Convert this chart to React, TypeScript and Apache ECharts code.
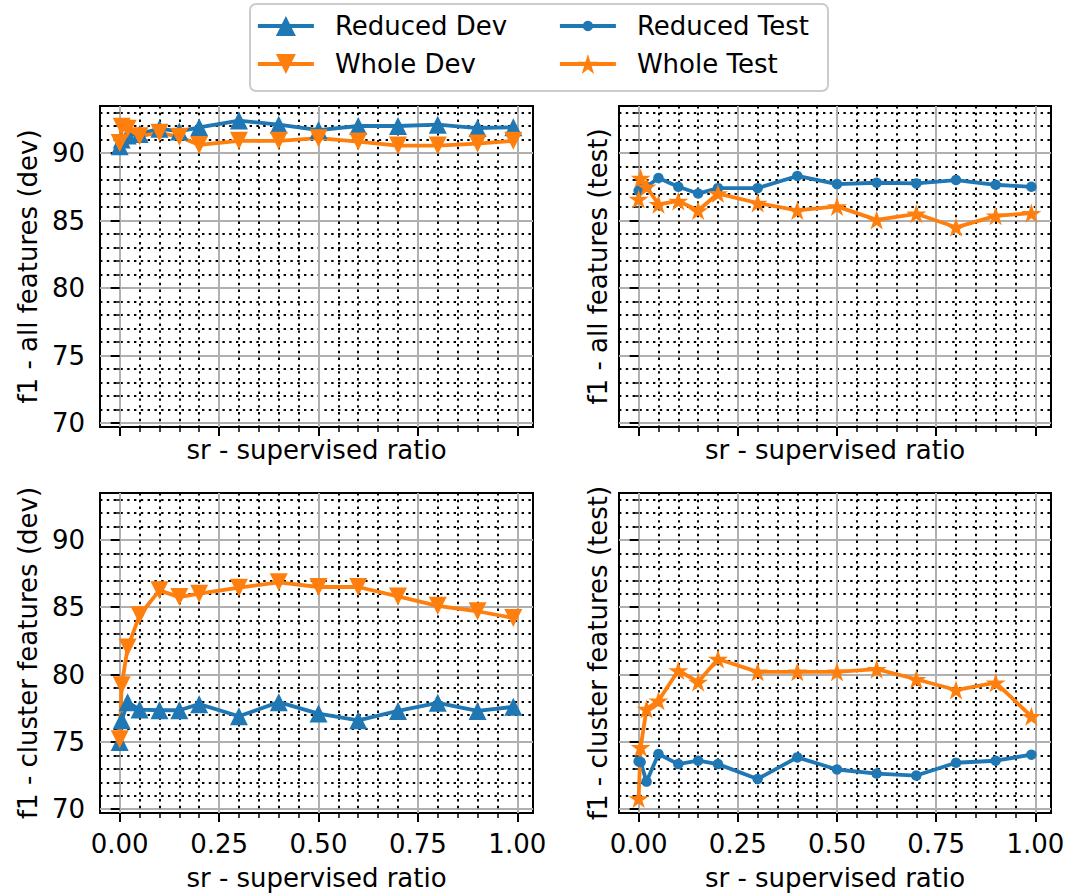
import React, { useEffect, useRef } from 'react';
import * as echarts from 'echarts';

// ---- data ----
const X_VALUES = [0, 0.005, 0.02, 0.05, 0.1, 0.15, 0.2, 0.3, 0.4, 0.5, 0.6, 0.7, 0.8, 0.9, 0.99];

const ALL_DEV_REDUCED = [90.5, 91.0, 91.3, 91.4, 91.8, 91.6, 91.9, 92.4, 92.1, 91.7, 92.0, 92.0, 92.1, 91.85, 91.9];
const ALL_DEV_WHOLE = [90.75, 91.95, 91.8, 91.25, 91.5, 91.2, 90.6, 90.9, 90.9, 91.1, 90.85, 90.55, 90.55, 90.7, 90.9];

const ALL_TEST_REDUCED = [87.2, 87.3, 87.5, 88.15, 87.5, 87.0, 87.4, 87.4, 88.3, 87.7, 87.8, 87.75, 88.0, 87.65, 87.5];
const ALL_TEST_WHOLE = [86.6, 88.15, 87.5, 86.2, 86.45, 85.75, 87.0, 86.3, 85.75, 86.05, 85.05, 85.5, 84.5, 85.35, 85.55];

const CLUSTER_DEV_REDUCED = [75.0, 76.6, 77.95, 77.4, 77.35, 77.35, 77.8, 76.9, 77.95, 77.1, 76.6, 77.3, 77.9, 77.3, 77.6];
const CLUSTER_DEV_WHOLE = [75.2, 79.2, 82.0, 84.4, 86.25, 85.75, 86.0, 86.45, 86.85, 86.5, 86.5, 85.8, 85.1, 84.7, 84.2];

const CLUSTER_TEST_REDUCED = [73.55, 73.5, 72.05, 74.1, 73.35, 73.6, 73.35, 72.25, 73.85, 72.95, 72.65, 72.5, 73.45, 73.6, 74.05];
const CLUSTER_TEST_WHOLE = [70.8, 74.6, 77.45, 78.05, 80.3, 79.45, 81.15, 80.2, 80.2, 80.2, 80.4, 79.65, 78.85, 79.4, 76.9];

const X_MAJOR = [0, 0.25, 0.5, 0.75, 1.0];
const X_MINOR = [0.05, 0.1, 0.15, 0.2, 0.3, 0.35, 0.4, 0.45, 0.55, 0.6, 0.65, 0.7, 0.8, 0.85, 0.9, 0.95];
const Y_MAJOR = [70, 75, 80, 85, 90];
const Y_MINOR = [71, 72, 73, 74, 76, 77, 78, 79, 81, 82, 83, 84, 86, 87, 88, 89, 91, 92, 93];
const X_RANGE = [-0.0495, 1.0395];
const Y_RANGE = [69.72, 93.48];

const X_NAME = 'sr - supervised ratio';
const Y_NAMES = [
  'f1 - all features (dev)',
  'f1 - all features (test)',
  'f1 - cluster features (dev)',
  'f1 - cluster features (test)',
];
const NAME_REDUCED_DEV = 'Reduced Dev';
const NAME_WHOLE_DEV = 'Whole Dev';
const NAME_REDUCED_TEST = 'Reduced Test';
const NAME_WHOLE_TEST = 'Whole Test';

// ---- style ----
const BLUE = '#1f77b4';
const ORANGE = '#ff7f0e';
const FONT = 'DejaVu Sans';
const FS = 26;
const LW = 3.8;
const STAR = 'path://M0,-100L22.45,-30.9L95.1,-30.9L36.3,11.8L58.8,80.9L0,38.2L-58.8,80.9L-36.3,11.8L-95.1,-30.9L-22.45,-30.9Z';
const TRI_DOWN = 'path://M0,0L100,0L50,100Z';

const GRIDS = [
  { left: 100, top: 106, width: 433, height: 321 },
  { left: 619, top: 106, width: 432, height: 321 },
  { left: 100, top: 493, width: 433, height: 320 },
  { left: 619, top: 493, width: 432, height: 320 },
];

function buildOption() {
  const textBase = { fontFamily: FONT, fontSize: FS, color: '#000' };
  const xAxis: any[] = [];
  const yAxis: any[] = [];
  GRIDS.forEach((_, g) => {
    const bottomRow = g >= 2;
    const leftCol = g % 2 === 0;
    xAxis.push({
      type: 'value', gridIndex: g, min: X_RANGE[0], max: X_RANGE[1], position: 'bottom',
      axisLine: { show: false },
      axisTick: { show: true, customValues: X_MAJOR, length: 9, lineStyle: { color: '#000', width: 2 } },
      axisLabel: { show: bottomRow, customValues: X_MAJOR, formatter: (v: number) => v.toFixed(2), margin: 18, ...textBase },
      splitLine: { show: true, lineStyle: { color: '#b0b0b0', width: 2 } },
      name: X_NAME, nameLocation: 'middle', nameGap: bottomRow ? 52 : 10,
      nameTextStyle: { ...textBase },
    });
    xAxis.push({
      type: 'value', gridIndex: g, min: X_RANGE[0], max: X_RANGE[1], position: 'bottom',
      axisLine: { show: false },
      axisTick: { show: true, customValues: X_MINOR, length: 5, lineStyle: { color: '#000', width: 1.5 } },
      axisLabel: { show: false },
      splitLine: { show: true, lineStyle: { color: '#000', width: 2, type: [2.4, 4.4] } },
    });
    yAxis.push({
      type: 'value', gridIndex: g, min: Y_RANGE[0], max: Y_RANGE[1], position: 'left',
      axisLine: { show: false },
      axisTick: { show: true, customValues: Y_MAJOR, length: 9, lineStyle: { color: '#000', width: 2 } },
      axisLabel: { show: leftCol, customValues: Y_MAJOR, formatter: (v: number) => String(Math.round(v)), margin: 15, ...textBase },
      splitLine: { show: true, lineStyle: { color: '#b0b0b0', width: 2 } },
      name: Y_NAMES[g], nameLocation: 'middle', nameGap: leftCol ? 59 : 8,
      nameTextStyle: { ...textBase },
    });
    yAxis.push({
      type: 'value', gridIndex: g, min: Y_RANGE[0], max: Y_RANGE[1], position: 'left',
      axisLine: { show: false },
      axisTick: { show: true, customValues: Y_MINOR, length: 5, lineStyle: { color: '#000', width: 1.5 } },
      axisLabel: { show: false },
      splitLine: { show: true, lineStyle: { color: '#000', width: 2, type: [2.4, 4.4] } },
    });
  });

  const mk = (name: string, g: number, values: number[], color: string, symbol: string, size: number) => ({
    type: 'line', name, xAxisIndex: 2 * g, yAxisIndex: 2 * g,
    data: X_VALUES.map((x, i) => [x, values[i]]),
    symbol, symbolSize: size, showAllSymbol: true, symbolKeepAspect: true,
    lineStyle: { color, width: LW },
    itemStyle: { color, borderWidth: 0 },
    silent: true, emphasis: { disabled: true },
  });

  const series = [
    mk(NAME_REDUCED_DEV, 0, ALL_DEV_REDUCED, BLUE, 'triangle', 18),
    mk(NAME_WHOLE_DEV, 0, ALL_DEV_WHOLE, ORANGE, TRI_DOWN, 18),
    mk(NAME_REDUCED_TEST, 1, ALL_TEST_REDUCED, BLUE, 'circle', 10.5),
    mk(NAME_WHOLE_TEST, 1, ALL_TEST_WHOLE, ORANGE, STAR, 20),
    mk(NAME_REDUCED_DEV, 2, CLUSTER_DEV_REDUCED, BLUE, 'triangle', 18),
    mk(NAME_WHOLE_DEV, 2, CLUSTER_DEV_WHOLE, ORANGE, TRI_DOWN, 18),
    mk(NAME_REDUCED_TEST, 3, CLUSTER_TEST_REDUCED, BLUE, 'circle', 10.5),
    mk(NAME_WHOLE_TEST, 3, CLUSTER_TEST_WHOLE, ORANGE, STAR, 20),
  ];

  const legendItem = (name: string, left: number, centerY: number, iconH: number) => ({
    data: [name], left, top: centerY - 15, orient: 'horizontal', padding: 0,
    itemWidth: 56, itemHeight: iconH, selectedMode: false,
    lineStyle: { width: LW },
    textStyle: { ...textBase, lineHeight: 30, padding: [0, 0, 0, 16] },
  });

  return {
    animation: false,
    backgroundColor: '#fff',
    grid: GRIDS.map((gr) => ({ ...gr, show: true, borderColor: '#000', borderWidth: 2, backgroundColor: 'transparent', containLabel: false })),
    xAxis,
    yAxis,
    series,
    legend: [
      legendItem(NAME_REDUCED_DEV, 256, 26, 25),
      legendItem(NAME_WHOLE_DEV, 256, 64, 25),
      legendItem(NAME_REDUCED_TEST, 558, 26, 13),
      legendItem(NAME_WHOLE_TEST, 558, 64, 25),
    ],
    graphic: [
      {
        type: 'rect', z: 0,
        shape: { x: 250, y: 4, width: 578, height: 87, r: 6 },
        style: { fill: 'rgba(255,255,255,0.8)', stroke: '#cccccc', lineWidth: 2 },
      },
    ],
  };
}

export default function App() {
  const ref = useRef<HTMLDivElement>(null);
  useEffect(() => {
    if (!ref.current) return;
    const chart = echarts.init(ref.current, undefined, { renderer: 'svg' });
    chart.setOption(buildOption() as any);
    return () => chart.dispose();
  }, []);
  return <div ref={ref} style={{ position: 'absolute', left: 0, top: 0, width: 1068, height: 896 }} />;
}
